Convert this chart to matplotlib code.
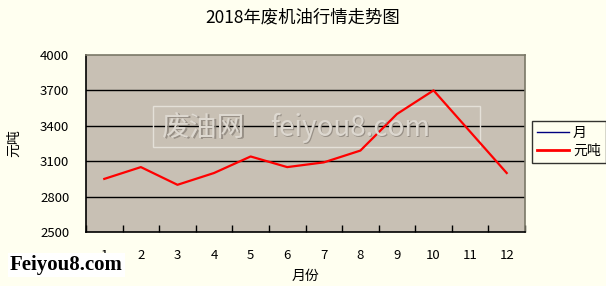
import numpy as np
import matplotlib.pyplot as plt
from matplotlib.patches import Rectangle
from matplotlib.lines import Line2D

plt.rcParams['font.family'] = ['Noto Sans CJK SC', 'DejaVu Sans']

# datos
meses = [1, 2, 3, 4, 5, 6, 7, 8, 9, 10, 11, 12]
precio = [2950, 3050, 2900, 3000, 3140, 3050, 3090, 3190, 3500, 3700, 3350, 3000]
y_ticks = [2500, 2800, 3100, 3400, 3700, 4000]

fondo = '#FFFFF0'
fondo_plot = '#C8C0B4'

fig = plt.figure(figsize=(6.06, 2.86), dpi=100, facecolor=fondo)
ax = fig.add_axes([86/606, 54/286, 439/606, 177/286], facecolor=fondo_plot)

# grid horizontal
for v in y_ticks[1:-1]:
    ax.axhline(v, color='black', lw=1, zorder=1)

# marca de agua dentro del area
ax.add_patch(Rectangle((153/606, (286-147)/286), 327/606, 41/286, transform=fig.transFigure,
                       fill=False, edgecolor='#E4E0D8', lw=1, zorder=2))
for txt, xc in [('废油网', 204), ('feiyou8.com', 350)]:
    fig.text(xc/606 + 0.002, 1 - 128/286 - 0.004, txt, fontsize=20,
             color='#8C857C', ha='center', va='center', zorder=3, alpha=0.8)
    fig.text(xc/606, 1 - 128/286, txt, fontsize=20,
             color='#DDD8D0', ha='center', va='center', zorder=3)

ax.plot([], [], color='#000080', lw=1, label='月')
ax.plot(meses, precio, color='red', lw=1.6, label='元吨', zorder=5)

ax.set_xlim(0.5, 12.5)
ax.set_ylim(2500, 4000)
ax.set_yticks(y_ticks)
ax.set_xticks(meses)
ax.set_xticks(np.arange(0.5, 13, 1), minor=True)
ax.tick_params(axis='x', which='major', length=0, pad=12, labelsize=9.5)
ax.tick_params(axis='x', which='minor', direction='in', length=5, width=1)
ax.tick_params(axis='y', length=0, pad=12, labelsize=9.5)

ax.spines['left'].set_color('black')
ax.spines['bottom'].set_color('black')
ax.spines['top'].set_color('#7A7868')
ax.spines['right'].set_color('#7A7868')
for s in ax.spines.values():
    s.set_linewidth(1.2)

ax.set_xlabel('月份', fontsize=10, labelpad=5)
ax.set_ylabel('元吨', fontsize=10, labelpad=14)
fig.text(303/606, 1 - 17/286, '2018年废机油行情走势图', fontsize=12.5, ha='center', va='center')

handles = [Line2D([], [], color='#000080', lw=1), Line2D([], [], color='red', lw=2)]
leg = fig.legend(handles, ['月', '元吨'], loc='upper left', bbox_to_anchor=(532/606, 1 - 121/286),
                 frameon=True, fancybox=False, fontsize=10, handlelength=2.3, handletextpad=0.3,
                 borderpad=0.35, labelspacing=0.3, borderaxespad=0)
leg.get_frame().set_edgecolor('black')
leg.get_frame().set_facecolor(fondo)
leg.get_frame().set_linewidth(1)

fig.text(10/606, 1 - 265/286, 'Feiyou8.com', fontsize=15, fontweight='bold',
         family='Liberation Serif', ha='left', va='center',
         bbox=dict(facecolor='white', edgecolor='none', pad=1.5))

plt.savefig('out.png', dpi=100, facecolor=fondo)
